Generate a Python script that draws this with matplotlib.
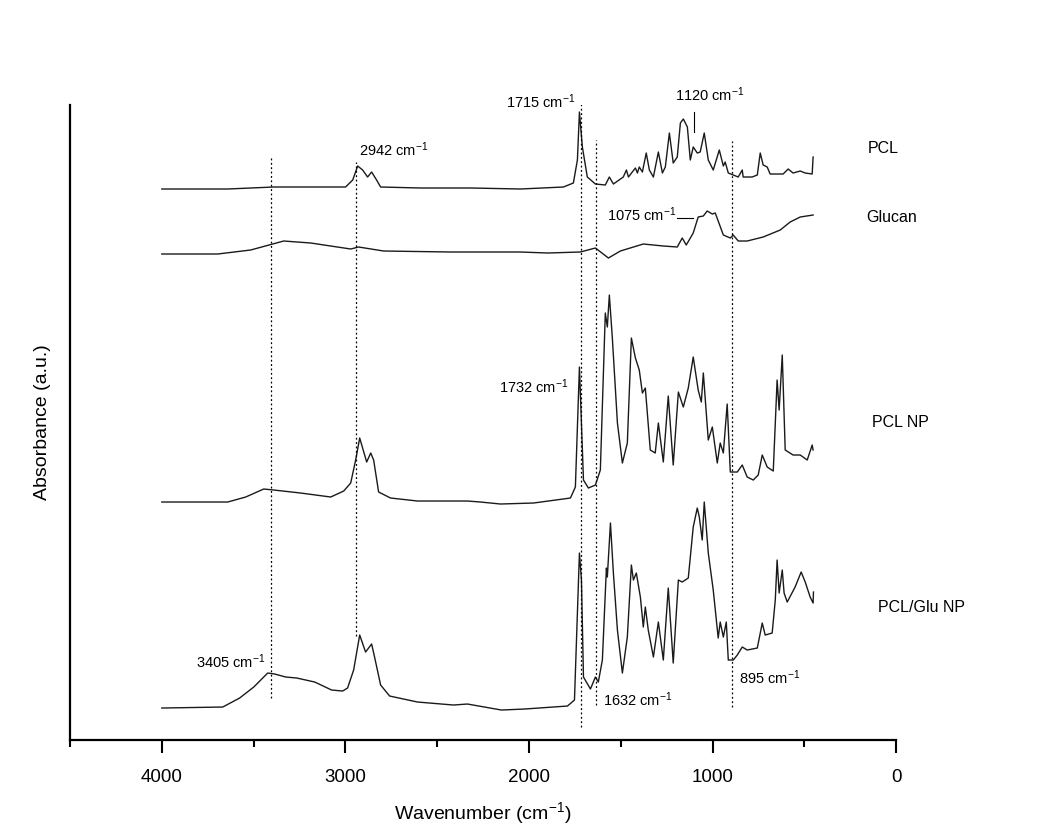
import matplotlib.pyplot as plt
import numpy as np
from matplotlib.ticker import MultipleLocator

plt.rcParams['font.family'] = ['Liberation Sans', 'DejaVu Sans']
plt.rcParams['mathtext.fontset'] = 'custom'
plt.rcParams['mathtext.rm'] = 'Liberation Sans'
plt.rcParams['mathtext.it'] = 'Liberation Sans'
plt.rcParams['mathtext.bf'] = 'Liberation Sans'

# spectra: wavenumber (cm-1) and stacked absorbance (a.u.)
pcl_wn = [4000, 3641, 3390, 3080, 2999, 2960, 2933, 2906, 2879, 2857, 2830, 2808,
          2590, 2318, 2046, 1812, 1758, 1736, 1725, 1709, 1682, 1638, 1584, 1562,
          1540, 1486, 1469, 1458, 1420, 1409, 1399, 1382, 1361, 1344, 1322, 1295,
          1273, 1257, 1235, 1214, 1192, 1175, 1159, 1137, 1121, 1105, 1083, 1067,
          1045, 1023, 996, 963, 941, 931, 914, 887, 860, 838, 833, 784, 756, 740,
          724, 702, 686, 615, 588, 561, 522, 495, 457, 452]
pcl_abs = [551, 551, 553, 553, 553, 560, 574, 570, 563, 568, 560, 553,
           552, 552, 551, 553, 557, 580, 628, 593, 563, 556, 555, 563,
           556, 563, 570, 563, 572, 567, 573, 568, 587, 570, 563, 588,
           567, 573, 607, 577, 583, 617, 621, 613, 580, 593, 587, 588,
           607, 580, 570, 590, 574, 578, 567, 565, 563, 570, 563, 563, 565, 587,
           575, 573, 566, 566, 571, 567, 569, 567, 566, 583]

glucan_wn = [4000, 3695, 3516, 3336, 3189, 2971, 2928, 2792, 2427, 2046, 1899, 1720,
             1638, 1567, 1502, 1377, 1268, 1192, 1165, 1143, 1105, 1078, 1050, 1029,
             1001, 985, 941, 903, 887, 860, 811, 724, 631, 577, 522, 452]
glucan_abs = [486, 486, 490, 499, 497, 491, 493, 489, 488, 488, 487, 488,
              492, 482, 489, 496, 494, 493, 502, 495, 507, 523, 524, 529,
              526, 527, 505, 502, 505, 499, 499, 503, 510, 518, 523, 525]

pclnp_wn = [4000, 3641, 3543, 3445, 3390, 3244, 3080, 3009, 2971, 2944, 2922, 2884,
            2862, 2846, 2819, 2754, 2607, 2335, 2264, 2155, 1975, 1774, 1747, 1725,
            1703, 1676, 1638, 1611, 1584, 1573, 1562, 1546, 1518, 1491, 1464, 1442,
            1420, 1399, 1382, 1366, 1339, 1312, 1295, 1268, 1241, 1214, 1186, 1159,
            1132, 1105, 1078, 1061, 1050, 1023, 1001, 974, 958, 941, 920, 903, 865,
            838, 811, 778, 751, 729, 702, 669, 648, 637, 620, 604, 561, 522, 484,
            457, 452]
pclnp_abs = [238, 238, 243, 251, 250, 247, 243, 249, 257, 280, 302, 278,
             287, 280, 248, 242, 239, 239, 238, 236, 237, 242, 253, 373,
             260, 252, 255, 270, 427, 413, 445, 403, 317, 277, 297, 402,
             382, 370, 347, 352, 290, 287, 317, 278, 344, 275, 348, 333,
             352, 383, 350, 338, 367, 300, 313, 277, 297, 287, 336, 268, 268,
             275, 263, 260, 265, 285, 273, 269, 360, 330, 385, 290, 285, 285, 280,
             295, 290]

pclglu_wn = [4000, 3668, 3576, 3499, 3423, 3385, 3325, 3265, 3167, 3075, 3015, 2988,
             2955, 2922, 2890, 2857, 2841, 2808, 2759, 2607, 2411, 2335, 2150, 2024,
             1790, 1752, 1725, 1714, 1703, 1665, 1638, 1622, 1600, 1578, 1573, 1556,
             1540, 1518, 1491, 1464, 1442, 1431, 1415, 1393, 1377, 1366, 1350, 1322,
             1295, 1268, 1241, 1214, 1186, 1165, 1132, 1105, 1083, 1072, 1056, 1045,
             1023, 996, 969, 958, 941, 925, 914, 887, 865, 838, 811, 756, 729, 713,
             675, 658, 648, 637, 620, 610, 593, 550, 517, 495, 468, 452, 450]
pclglu_abs = [32, 33, 42, 53, 67, 66, 63, 62, 58, 50, 49, 52,
              70, 105, 88, 96, 83, 55, 44, 38, 35, 36, 30, 31,
              34, 40, 187, 160, 63, 51, 63, 58, 80, 172, 163, 217,
              167, 110, 67, 103, 175, 160, 167, 143, 113, 133, 110, 83,
              118, 80, 152, 77, 160, 158, 162, 213, 232, 223, 200, 238,
              187, 150, 102, 118, 103, 118, 80, 80, 85, 93, 90, 92, 117, 105,
              107, 140, 180, 147, 170, 147, 138, 153, 168, 158, 143, 137, 148]

# marker lines: position, top, bottom
mark_wn = [3405, 2942, 1715, 1632, 895]
mark_top = [582, 578, 652, 600, 599]
mark_bottom = [42, 104, 13, 35, 33]

fig = plt.figure(figsize=(10.5, 8.36), dpi=100)
ax = fig.add_axes([0.0667, 0.1148, 0.7867, 0.7596])

for wn, a in [(pcl_wn, pcl_abs), (glucan_wn, glucan_abs),
              (pclnp_wn, pclnp_abs), (pclglu_wn, pclglu_abs)]:
    ax.plot(wn, a, color='#1a1a1a', lw=1.0)

ax.vlines(mark_wn, mark_bottom, mark_top, colors='k', linestyles=(0, (1.5, 2)), lw=0.9)

# little indicator ticks
ax.plot([1192, 1105], [522, 522], color='k', lw=0.8)
ax.plot([1099, 1099], [608, 628], color='k', lw=0.8)

afs = 10.5
ax.text(2928, 590, '2942 cm$^{-1}$', fontsize=afs, va='center', ha='left')
ax.text(1747, 638, '1715 cm$^{-1}$', fontsize=afs, va='center', ha='right')
ax.text(1203, 645, '1120 cm$^{-1}$', fontsize=afs, va='center', ha='left')
ax.text(1573, 525, '1075 cm$^{-1}$', fontsize=afs, va='center', ha='left')
ax.text(1785, 353, '1732 cm$^{-1}$', fontsize=afs, va='center', ha='right')
ax.text(3434, 78, '3405 cm$^{-1}$', fontsize=afs, va='center', ha='right')
ax.text(1595, 40, '1632 cm$^{-1}$', fontsize=afs, va='center', ha='left')
ax.text(854, 62, '895 cm$^{-1}$', fontsize=afs, va='center', ha='left')

sfs = 11.5
ax.text(152, 592, 'PCL', fontsize=sfs, va='center', ha='left')
ax.text(163, 523, 'Glucan', fontsize=sfs, va='center', ha='left')
ax.text(131, 318, 'PCL NP', fontsize=sfs, va='center', ha='left')
ax.text(98, 133, 'PCL/Glu NP', fontsize=sfs, va='center', ha='left')

ax.set_xlim(4500, 0)
ax.set_ylim(0, 635)
ax.xaxis.set_major_locator(MultipleLocator(1000))
ax.xaxis.set_minor_locator(MultipleLocator(500))
ax.tick_params(axis='x', which='major', direction='out', length=9, width=1.5,
               labelsize=13.5, pad=12)
ax.tick_params(axis='x', which='minor', direction='out', length=5, width=1.5)
ax.set_yticks([])
for s in ['top', 'right']:
    ax.spines[s].set_visible(False)
for s in ['left', 'bottom']:
    ax.spines[s].set_linewidth(1.6)

ax.set_xlabel('Wavenumber (cm$^{-1}$)', fontsize=14, labelpad=10)
ax.set_ylabel('Absorbance (a.u.)', fontsize=14, labelpad=14)

fig.savefig('out.png', dpi=100)
